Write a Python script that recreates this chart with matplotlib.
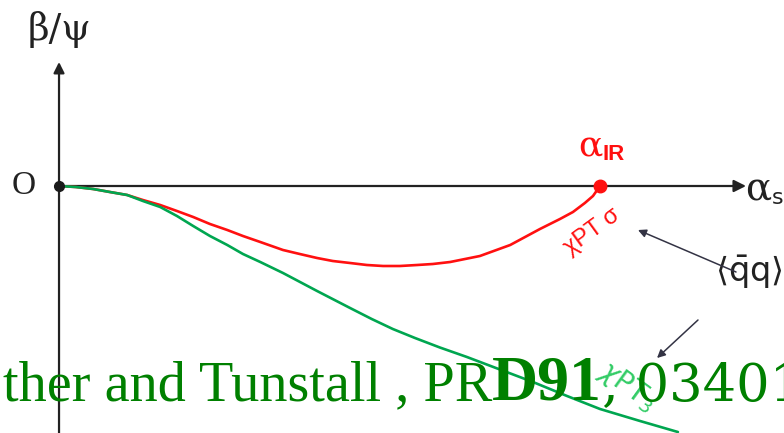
import matplotlib
matplotlib.use('Agg')
import matplotlib.pyplot as plt

# schematic beta/psi vs alpha_s (alpha_IR = 1)
sigma_x = [0.0, 0.031, 0.063, 0.094, 0.126, 0.155, 0.187, 0.218, 0.248, 0.279,
           0.311, 0.340, 0.372, 0.414, 0.445, 0.477, 0.506, 0.538, 0.569, 0.599,
           0.630, 0.662, 0.691, 0.723, 0.778, 0.834, 0.889, 0.926, 0.950, 0.972,
           0.987, 1.0]
sigma_y = [0.0, -0.01, -0.03, -0.06, -0.09, -0.14, -0.19, -0.25, -0.31, -0.38,
           -0.44, -0.50, -0.56, -0.64, -0.68, -0.72, -0.75, -0.77, -0.79, -0.80,
           -0.80, -0.79, -0.78, -0.76, -0.70, -0.59, -0.43, -0.33, -0.26, -0.17,
           -0.10, 0.0]

three_x = [0.0, 0.031, 0.063, 0.094, 0.126, 0.155, 0.187, 0.218, 0.248, 0.279,
           0.311, 0.340, 0.372, 0.414, 0.477, 0.538, 0.578, 0.617, 0.658, 0.704,
           0.754, 0.815, 0.876, 0.939, 1.0, 1.074, 1.144]
three_y = [0.0, -0.01, -0.03, -0.06, -0.09, -0.15, -0.21, -0.30, -0.40, -0.50,
           -0.59, -0.68, -0.76, -0.87, -1.05, -1.22, -1.33, -1.43, -1.52, -1.615,
           -1.71, -1.835, -1.96, -2.10, -2.23, -2.35, -2.46]

alpha_ir = 1.0

ref_parts = ['ther and Tunstall , PR', 'D91', ', 034017']

fig = plt.figure(figsize=(7.84, 4.33), dpi=100)
ax = fig.add_axes([0, 0, 1, 1])
ax.set_xlim(-0.1091, 1.3401)
ax.set_ylim(-2.47, 1.86)
ax.axis('off')

dark = '#222222'
red = '#ff1010'

# axes with arrows
ax.annotate('', xy=(1.2699, 0), xytext=(0, 0),
            arrowprops=dict(arrowstyle='-|>', lw=1.6, color=dark, mutation_scale=18,
                            shrinkA=0, shrinkB=0))
ax.annotate('', xy=(0, 1.24), xytext=(0, -2.6),
            arrowprops=dict(arrowstyle='-|>', lw=1.6, color=dark, mutation_scale=16,
                            shrinkA=0, shrinkB=0))

ax.plot(sigma_x, sigma_y, color=red, lw=1.9, solid_capstyle='round', zorder=3)
ax.plot(three_x, three_y, color='#00a650', lw=1.9, solid_capstyle='round', zorder=4)
ax.plot([0], [0], 'o', color='#1a1a1a', ms=7, zorder=5)
ax.plot([alpha_ir], [0], 'o', color=red, ms=9, zorder=5)

# labels
ax.text(0, 1.56, 'β/ψ', fontsize=27, family='DejaVu Serif', ha='center', va='center',
        color=dark)
ax.text(-0.0647, 0, 'O', fontsize=24, family='Liberation Serif', ha='center', va='center',
        color=dark)
ax.text(1.268, -0.03, 'α', fontsize=28, family='DejaVu Serif', ha='left', va='center',
        color=dark)
ax.text(1.318, -0.12, 's', fontsize=16, family='DejaVu Sans', ha='left', va='center',
        color=dark)
ax.text(1.005, 0.40, 'α', fontsize=26, family='DejaVu Serif', ha='right', va='center',
        color=red)
ax.text(1.005, 0.32, 'IR', fontsize=16, family='Liberation Sans', weight='bold',
        ha='left', va='center', color=red)
ax.text(0.985, -0.46, 'χPT σ', fontsize=17, family='Liberation Sans', ha='center',
        va='center', color=red, rotation=36)
ax.text(1.212, -0.86, r'$\langle\bar{\mathrm{q}}\mathrm{q}\rangle$', fontsize=24,
        ha='left', va='center', color=dark)
ax.text(1.05, -2.0, r'$\chi$PT$_3$', fontsize=20, ha='center', va='center',
        color='#33cc66', rotation=-36)

ax.annotate('', xy=(1.0702, -0.44), xytext=(1.2514, -0.86),
            arrowprops=dict(arrowstyle='-|>', lw=1.1, color='#333344', mutation_scale=12,
                            shrinkA=0, shrinkB=0))
ax.annotate('', xy=(1.1054, -1.72), xytext=(1.1811, -1.34),
            arrowprops=dict(arrowstyle='-|>', lw=1.1, color='#333344', mutation_scale=12,
                            shrinkA=0, shrinkB=0))

# overlaid reference text, chained piece by piece
fig.canvas.draw()
renderer = fig.canvas.get_renderer()
x0 = 3
styles = {
    'ther and Tunstall , PR': dict(fontsize=40.5, family='Liberation Serif'),
    'D91': dict(fontsize=46, family='Liberation Serif', weight='bold'),
    ', 034017': dict(fontsize=38, family='DejaVu Serif'),
}
for part in ref_parts:
    t = fig.text(x0 / 784, 1 - 400 / 433, part, color='#008000', ha='left',
                 va='baseline', zorder=10, **styles[part])
    x0 = t.get_window_extent(renderer).x1

fig.savefig('out.png', dpi=100)
